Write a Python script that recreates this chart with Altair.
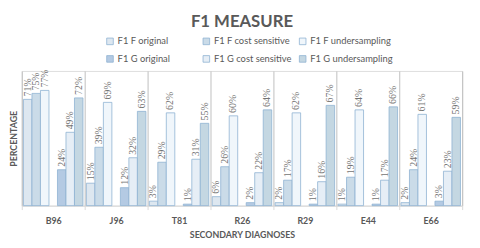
import altair as alt
import pandas as pd

categories = ["B96", "J96", "T81", "R26", "R29", "E44", "E66"]
series = ["F1 F original", "F1 F cost sensitive", "F1 F undersampling",
          "F1 G original", "F1 G cost sensitive", "F1 G undersampling"]
f_original = [0.71, 0.15, 0.03, 0.06, 0.02, 0.01, 0.02]
f_cost = [0.75, 0.39, 0.29, 0.26, 0.17, 0.19, 0.24]
f_under = [0.77, 0.69, 0.62, 0.60, 0.62, 0.64, 0.61]
g_original = [0.24, 0.12, 0.01, 0.02, 0.01, 0.01, 0.03]
g_cost = [0.49, 0.32, 0.31, 0.22, 0.16, 0.17, 0.23]
g_under = [0.72, 0.63, 0.55, 0.64, 0.67, 0.66, 0.59]
colors = ["#dde7f0", "#cadbe8", "#f0f6fb", "#b4cae3", "#e6eef6", "#c4d7e2"]

values = [f_original, f_cost, f_under, g_original, g_cost, g_under]
rows = []
for s, vals in zip(series, values):
    for c, v in zip(categories, vals):
        rows.append({"cat": c, "series": s, "value": v})
df = pd.DataFrame(rows)

slot_domain = series[:3] + ["gap"] + series[3:]
FONT = "Lato"
GREY = "#595959"

x = alt.X("cat:N", sort=categories, title="SECONDARY DIAGNOSES",
          scale=alt.Scale(paddingInner=0, paddingOuter=0),
          axis=alt.Axis(labelAngle=0, tickBand="extent", grid=True, gridColor="#bfbfbf",
                        gridWidth=1, domainColor="#d9d9d9", tickColor="#d9d9d9", tickSize=4,
                        labelFont=FONT, labelFontSize=9, labelFontWeight="bold", labelColor=GREY,
                        labelPadding=7, titleFont=FONT, titleFontSize=9, titleFontWeight="bold",
                        titleColor=GREY, titlePadding=5))
xo = alt.XOffset("series:N", scale=alt.Scale(domain=slot_domain, paddingInner=0, paddingOuter=0.2))
y = alt.Y("value:Q", title="PERCENTAGE", scale=alt.Scale(domain=[0, 0.9]),
          axis=alt.Axis(labels=False, ticks=False, grid=False, domain=False,
                        titleFont=FONT, titleFontSize=9, titleFontWeight="bold",
                        titleColor=GREY, titlePadding=3))

bars = alt.Chart(df).mark_bar(stroke="#8fb2d2", strokeWidth=0.8).encode(
    x=x, xOffset=xo, y=y,
    color=alt.Color("series:N", scale=alt.Scale(domain=series, range=colors),
                    legend=alt.Legend(title=None, orient="none", legendX=85, legendY=-35,
                                      direction="horizontal",
                                      columns=3, gridAlign="all", columnPadding=0, rowPadding=7,
                                      symbolType="square", symbolSize=45, labelOffset=3,
                                      symbolStrokeColor="#8fb2d2", symbolStrokeWidth=0.8,
                                      labelFont=FONT, labelFontSize=9.5, labelColor=GREY,
                                      labelFontWeight="normal", labelLimit=200)),
)

labels = alt.Chart(df).mark_text(angle=270, align="left", baseline="middle", dx=3,
                                 font="Liberation Serif", fontSize=10, color="#737373").encode(
    x=x, xOffset=xo, y=y, text=alt.Text("value:Q", format=".0%"))

chart = alt.layer(bars, labels).properties(
    width=448, height=137,
    title=alt.TitleParams("F1 MEASURE", font=FONT, fontSize=17, fontWeight="bold",
                          color=GREY, anchor="middle", offset=6),
    autosize=alt.AutoSizeParams(type="none"),
    padding={"left": 14, "top": 62, "right": 10, "bottom": 38},
).configure_view(stroke=None).configure(background="white")

chart.save("out.html", embed_options={"renderer": "svg", "actions": False})
